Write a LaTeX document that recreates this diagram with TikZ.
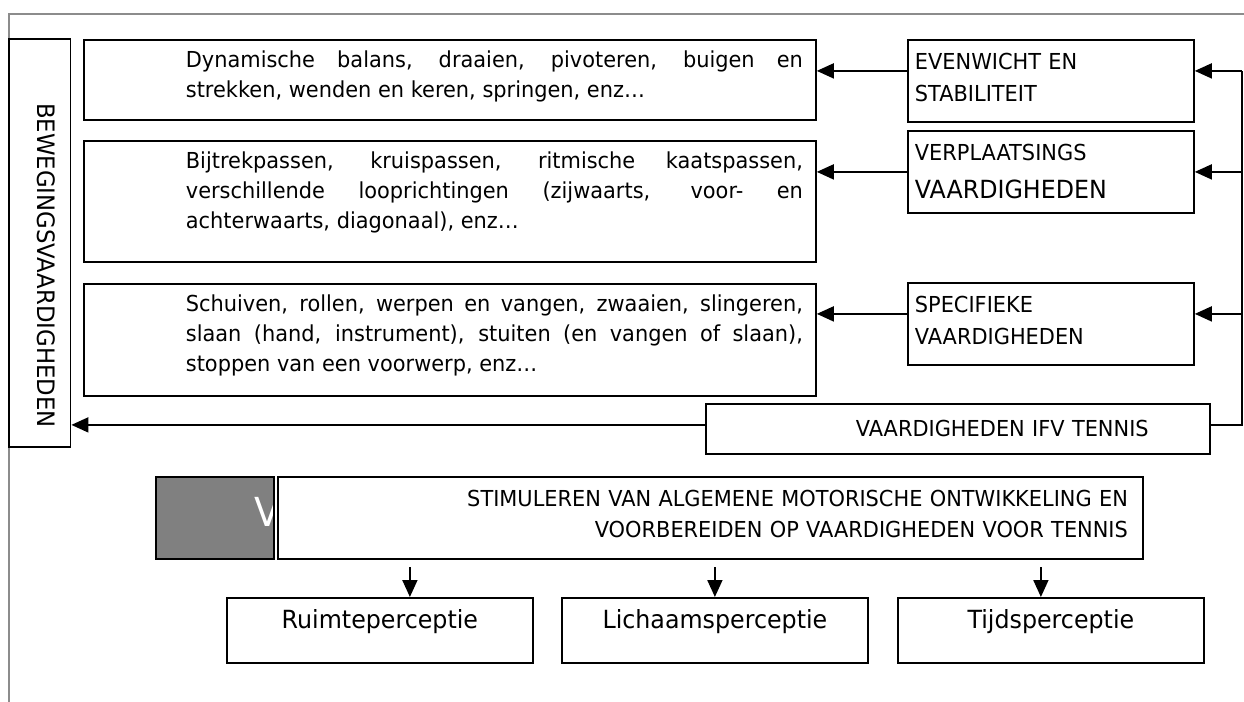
\documentclass[tikz,border=0pt]{standalone}
\usepackage{fontspec}
\setmainfont{DejaVu Sans}[FakeStretch=0.95]
\usetikzlibrary{arrows.meta}

\begin{document}
\begin{tikzpicture}[x=0.5pt,y=-0.5pt,
	frame_line/.style={draw=gray!90,line width=0.6pt},
	box/.style={draw,line width=0.9pt,anchor=north west,inner ysep=5pt},
	desc_box/.style={box,text width=353pt,inner xsep=6.5pt,align=right,text height=9pt,font=\fontsize{11}{15}\selectfont},
	skill_box/.style={box,text width=136pt,inner xsep=3.5pt,align=left,text height=10pt,text depth=21pt,font=\fontsize{11}{16}\selectfont},
	perc_box/.style={box,text width=147pt,inner xsep=3pt,align=center,text height=10.5pt,text depth=12pt,font=\fontsize{12.5}{15}\selectfont},
	arr/.style={line width=0.9pt,-{Triangle[length=8.5pt,width=7.5pt]}}]
	\useasboundingbox (0,0) rectangle (1244,702);
	\draw[frame_line] (9,702) |- (1244,14);

	\node[draw,line width=0.9pt,rotate=-90,minimum width=204pt,minimum height=30.75pt,inner sep=0pt,text width=204pt,align=left,text depth=7pt,font=\fontsize{12}{14}\selectfont] (beweging) at (39.75,243) {\hspace*{32pt}BEWEGINGSVAARDIGHEDEN};

	\node[desc_box,text depth=21pt] (dyn_balans) at (83,39) {\parbox[t]{308.5pt}{\spaceskip=0pt\xspaceskip=0pt Dynamische balans, draaien, pivoteren, buigen en\linebreak strekken, wenden en keren, springen, enz…}};
	\node[desc_box,text depth=41.5pt] (looprichting) at (83,140) {\parbox[t]{308.5pt}{\spaceskip=0pt\xspaceskip=0pt Bijtrekpassen, kruispassen, ritmische kaatspassen,\linebreak verschillende looprichtingen (zijwaarts, voor- en\linebreak achterwaarts, diagonaal), enz…}};
	\node[desc_box,text depth=37pt] (manipulatie) at (83,283) {\parbox[t]{308.5pt}{\spaceskip=0pt\xspaceskip=0pt Schuiven, rollen, werpen en vangen, zwaaien, slingeren,\linebreak slaan (hand, instrument), stuiten (en vangen of slaan),\linebreak stoppen van een voorwerp, enz…}};

	\node[skill_box] (evenwicht) at (907,39) {EVENWICHT EN\\STABILITEIT};
	\node[skill_box] (verplaatsing) at (907,130) {VERPLAATSINGS\\[3pt]{\fontsize{12.5}{16}\selectfont VAARDIGHEDEN}};
	\node[skill_box] (specifiek) at (907,282) {SPECIFIEKE\\VAARDIGHEDEN};
	\node[box,minimum height=25pt,inner ysep=0pt,inner xsep=3pt,text width=246pt,align=left,font=\fontsize{11}{13}\selectfont] (ifv_tennis) at (705,403) {\hspace*{72pt}VAARDIGHEDEN IFV TENNIS};

	\draw[arr] ([yshift=5pt]evenwicht.west) -- ([yshift=5pt]evenwicht.west -| dyn_balans.east);
	\draw[arr] (verplaatsing.west) -- (verplaatsing.west -| looprichting.east);
	\draw[arr] ([yshift=5pt]specifiek.west) -- ([yshift=5pt]specifiek.west -| manipulatie.east);
	\draw[arr] ([yshift=2pt]ifv_tennis.west) -- ([yshift=2pt]ifv_tennis.west -| beweging.north);

	\coordinate (rail) at (1242,0);
	\draw[line width=0.9pt] ([yshift=2pt]ifv_tennis.east) -| ([yshift=5pt]evenwicht.east -| rail);
	\draw[arr] ([yshift=5pt]evenwicht.east -| rail) -- ([yshift=5pt]evenwicht.east);
	\draw[arr] (verplaatsing.east -| rail) -- (verplaatsing.east);
	\draw[arr] ([yshift=5pt]specifiek.east -| rail) -- ([yshift=5pt]specifiek.east);

	\node[box,fill=gray,minimum width=59pt,minimum height=41pt,inner sep=0pt,path picture={\node[anchor=center,draw=none,fill=none,text=white,inner sep=0pt,font=\fontsize{20}{24}\selectfont] at ([xshift=-3pt,yshift=2.75pt]path picture bounding box.east) {V};}] (grijs_vlak) at (155,476) {};
	\node[box,text width=417.5pt,inner xsep=7.5pt,align=right,text height=10pt,text depth=21pt,font=\fontsize{11}{15.5}\selectfont] (stimuleren) at (277,476) {STIMULEREN VAN ALGEMENE MOTORISCHE ONTWIKKELING EN\\VOORBEREIDEN OP VAARDIGHEDEN VOOR TENNIS};

	\node[perc_box] (ruimte) at (226,597) {Ruimteperceptie};
	\node[perc_box] (lichaam) at (561,597) {Lichaamsperceptie};
	\node[perc_box] (tijd) at (897,597) {Tijdsperceptie};

	\draw[arr] ([xshift=15pt,yshift=15pt]ruimte.north) -- ([xshift=15pt]ruimte.north);
	\draw[arr] ([yshift=15pt]lichaam.north) -- (lichaam.north);
	\draw[arr] ([xshift=-5pt,yshift=15pt]tijd.north) -- ([xshift=-5pt]tijd.north);
\end{tikzpicture}
\end{document}
